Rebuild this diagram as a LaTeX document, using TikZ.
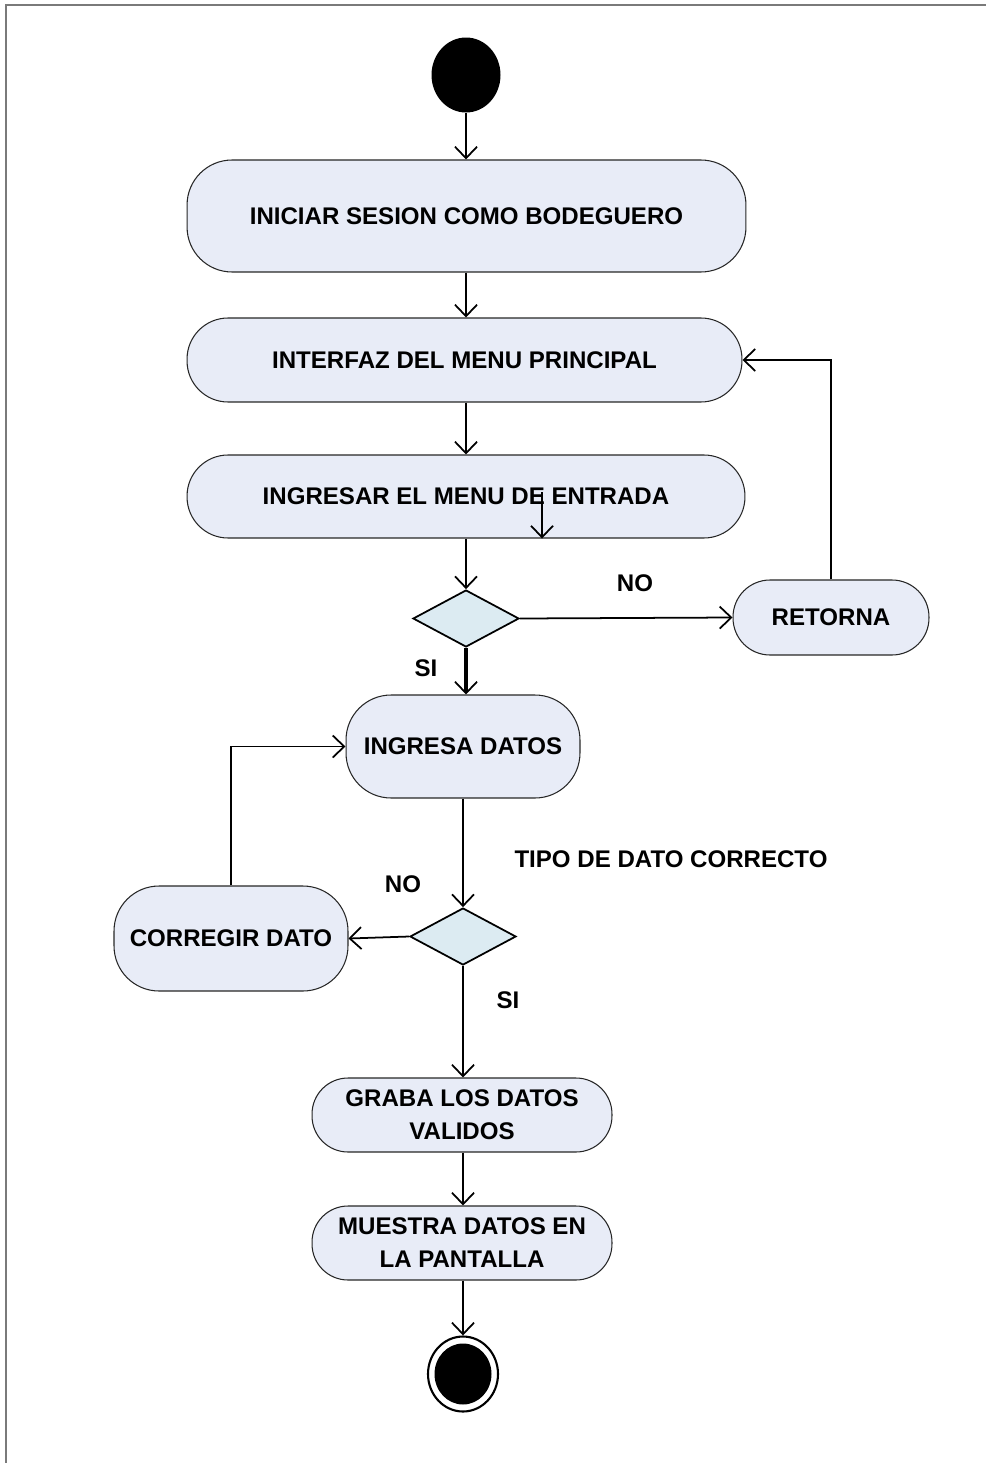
\documentclass[tikz,border=0pt]{standalone}
\usepackage{fontspec}
\setmainfont{Liberation Sans}
\usetikzlibrary{arrows.meta,shapes.geometric}
\definecolor{actfill}{HTML}{E8ECF7}
\definecolor{decfill}{HTML}{DCEBF2}
\definecolor{framegray}{HTML}{7A7A7A}

\tikzset{
  actbox/.style={rectangle, draw=black!85, fill=actfill, line width=0.6pt,
    font=\fontsize{13.7}{18.8}\selectfont\bfseries, align=center, inner sep=0pt},
  decbox/.style={diamond, draw=black, fill=decfill, line width=1pt, inner sep=0pt,
    minimum width=2.12cm, minimum height=1.14cm},
  guard/.style={font=\fontsize{13.7}{18.8}\selectfont\bfseries, inner sep=0pt},
  flow/.style={->, line width=1pt},
}

\begin{document}
\begin{tikzpicture}[x=0.02cm, y=-0.02cm, >={Straight Barb[length=2.3mm,width=4.4mm]}]
\useasboundingbox (0,0) rectangle (986,1463);
\draw[framegray, line width=1.2pt] (986,5) -- (6,5) -- (6,1463);

\node[ellipse, fill=black, minimum width=1.38cm, minimum height=1.5cm, inner sep=0pt]
  (ini) at (466,75) {};

\node[actbox, rounded corners=0.9cm, minimum width=11.18cm, minimum height=2.24cm]
  (sesion) at (466.5,216) {INICIAR SESION COMO BODEGUERO};
\node[actbox, rounded corners=0.82cm, minimum width=11.1cm, minimum height=1.68cm]
  (menu) at (464.5,360) {INTERFAZ DEL MENU PRINCIPAL};
\node[actbox, rounded corners=0.82cm, minimum width=11.16cm, minimum height=1.66cm]
  (entrada) at (466,496.5) {INGRESAR EL MENU DE ENTRADA};

\node[decbox] (dec1) at (466,618.5) {};
\node[actbox, rounded corners=0.74cm, minimum width=3.92cm, minimum height=1.5cm]
  (retorna) at (831,617.5) {RETORNA};

\node[actbox, rounded corners=0.9cm, minimum width=4.68cm, minimum height=2.06cm]
  (datos) at (463,746.5) {INGRESA DATOS};
\node[decbox] (dec2) at (463,936.5) {};
\node[actbox, rounded corners=0.9cm, minimum width=4.68cm, minimum height=2.1cm]
  (corregir) at (231,938.5) {CORREGIR DATO};

\node[actbox, rounded corners=0.72cm, minimum width=6.0cm, minimum height=1.48cm]
  (graba) at (462,1115) {GRABA LOS DATOS\\VALIDOS};
\node[actbox, rounded corners=0.72cm, minimum width=6.0cm, minimum height=1.48cm]
  (muestra) at (462,1243) {MUESTRA DATOS EN\\LA PANTALLA};

\node[ellipse, draw=black, line width=1.2pt, fill=white, minimum width=1.4cm,
      minimum height=1.5cm, inner sep=0pt] (fin) at (463,1374) {};
\node[ellipse, fill=black, minimum width=1.14cm, minimum height=1.22cm, inner sep=0pt]
  (fincore) at (fin) {};

\node[guard] (no1) at (635,583) {NO};
\node[guard] (si1) at (426,668) {SI};
\node[guard] (tipo) at (671,859) {TIPO DE DATO CORRECTO};
\node[guard] (no2) at (403,884) {NO};
\node[guard] (si2) at (508,1000) {SI};

\coordinate (stray) at (542,492);

\draw[flow] (ini) -- (ini |- sesion.north);
\draw[flow] (sesion.south -| ini) -- (ini |- menu.north);
\draw[flow] (menu.south -| ini) -- (ini |- entrada.north);
\draw[flow] (stray) -- (stray |- entrada.south);
\draw[flow] (entrada.south) -- (dec1.north);
\draw[flow] (dec1.east) -- (retorna.west);
\draw[flow] (retorna.north) |- (menu.east);
\draw[line width=2.6pt] (dec1.south) -- ([yshift=0.06cm]dec1.south |- datos.north);
\draw[flow] (dec1.south) -- (dec1.south |- datos.north);
\draw[flow] (datos.south) -- (dec2.north);
\draw[flow] (dec2.west) -- (corregir.east);
\draw[flow] (corregir.north) |- (datos.west);
\draw[flow] (dec2.south) -- (dec2.south |- graba.north);
\draw[flow] (graba.south -| dec2) -- (dec2 |- muestra.north);
\draw[flow] (muestra.south -| dec2) -- (fin.north);
\end{tikzpicture}
\end{document}
